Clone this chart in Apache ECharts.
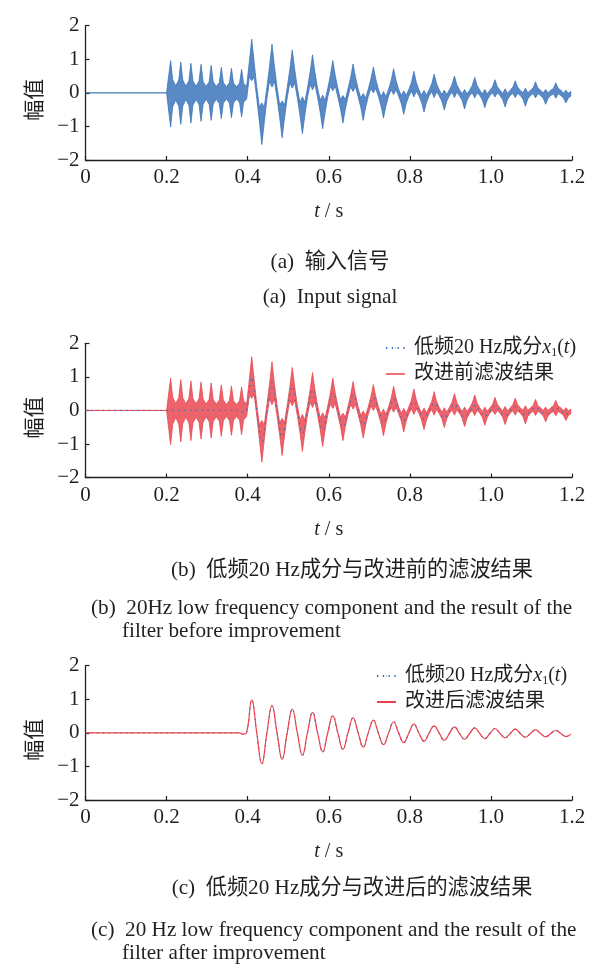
<!DOCTYPE html>
<html><head><meta charset="utf-8">
<script src="https://cdn.jsdelivr.net/npm/echarts@6/dist/echarts.min.js"></script>
<style>html,body{margin:0;padding:0;background:#fff}#c{width:606px;height:968px}</style>
</head><body><div id="c"></div>
<script>
// ---- tick labels ----
const xTickLabels = ['0', '0.2', '0.4', '0.6', '0.8', '1.0', '1.2'];
const yTickLabels = ['\u22122', '\u22121', '0', '1', '2'];

// ---- input signal (a) / filter result before improvement (b):
//      knots of the dense oscillation band: time, upper edge, lower edge ----
const inputT = [0, 0.200,
  0.204, 0.210, 0.215, 0.2225, 0.230, 0.235, 0.240, 0.2475, 0.255, 0.260, 0.265, 0.2725,
  0.280, 0.285, 0.290, 0.2975, 0.305, 0.310, 0.315, 0.3225, 0.330, 0.335, 0.340, 0.3475,
  0.355, 0.360, 0.365, 0.3725, 0.380, 0.385, 0.390, 0.3975,
  0.404, 0.410, 0.416, 0.4225, 0.429, 0.435, 0.441, 0.4475,
  0.454, 0.460, 0.466, 0.4725, 0.479, 0.485, 0.491, 0.4975,
  0.504, 0.510, 0.516, 0.5225, 0.529, 0.535, 0.541, 0.5475,
  0.554, 0.560, 0.566, 0.5725, 0.579, 0.585, 0.591, 0.5975,
  0.604, 0.610, 0.616, 0.6225, 0.629, 0.635, 0.641, 0.6475,
  0.654, 0.660, 0.666, 0.6725, 0.679, 0.685, 0.691, 0.6975,
  0.704, 0.710, 0.716, 0.7225, 0.729, 0.735, 0.741, 0.7475,
  0.754, 0.760, 0.766, 0.7725, 0.779, 0.785, 0.791, 0.7975,
  0.804, 0.810, 0.816, 0.8225, 0.829, 0.835, 0.841, 0.8475,
  0.854, 0.860, 0.866, 0.8725, 0.879, 0.885, 0.891, 0.8975,
  0.904, 0.910, 0.916, 0.9225, 0.929, 0.935, 0.941, 0.9475,
  0.954, 0.960, 0.966, 0.9725, 0.979, 0.985, 0.991, 0.9975,
  1.004, 1.010, 1.016, 1.0225, 1.029, 1.035, 1.041, 1.0475,
  1.054, 1.060, 1.066, 1.0725, 1.079, 1.085, 1.091, 1.0975,
  1.104, 1.110, 1.116, 1.1225, 1.129, 1.135, 1.141, 1.1475,
  1.154, 1.160, 1.166, 1.1725, 1.179, 1.185, 1.191, 1.197];
const inputHi = [0, 0,
  0.40, 0.96, 0.40, 0.21, 0.38, 0.92, 0.38, 0.20, 0.36, 0.88, 0.36, 0.20,
  0.35, 0.85, 0.34, 0.19, 0.33, 0.82, 0.33, 0.19, 0.31, 0.76, 0.31, 0.18,
  0.30, 0.73, 0.29, 0.18, 0.29, 0.70, 0.28, 0.20,
  0.91, 1.60, 0.91, 0.17, -0.43, -0.30, -0.43, 0.17,
  0.79, 1.45, 0.79, 0.16, -0.36, -0.24, -0.36, 0.15,
  0.70, 1.28, 0.70, 0.15, -0.28, -0.12, -0.28, 0.14,
  0.61, 1.13, 0.61, 0.14, -0.22, -0.07, -0.22, 0.13,
  0.52, 0.96, 0.52, 0.13, -0.20, -0.08, -0.20, 0.12,
  0.46, 0.86, 0.46, 0.12, -0.15, -0.02, -0.15, 0.11,
  0.41, 0.77, 0.41, 0.11, -0.11, 0.04, -0.11, 0.10,
  0.37, 0.72, 0.37, 0.10, -0.08, 0.06, -0.08, 0.10,
  0.31, 0.64, 0.31, 0.09, -0.07, 0.07, -0.07, 0.09,
  0.27, 0.56, 0.27, 0.09, -0.05, 0.08, -0.05, 0.09,
  0.24, 0.50, 0.24, 0.09, -0.03, 0.10, -0.03, 0.08,
  0.22, 0.46, 0.22, 0.08, -0.03, 0.10, -0.03, 0.08,
  0.18, 0.39, 0.18, 0.08, -0.02, 0.12, -0.02, 0.08,
  0.17, 0.36, 0.17, 0.08, 0.00, 0.14, 0.00, 0.08,
  0.14, 0.33, 0.14, 0.08, 0.00, 0.10, 0.00, 0.08,
  0.13, 0.30, 0.13, 0.08, -0.01, 0.08, -0.01, 0.04];
const inputLo = [0, 0,
  -0.42, -1.02, -0.42, -0.21, -0.40, -0.94, -0.39, -0.20, -0.37, -0.90, -0.37, -0.20,
  -0.35, -0.85, -0.35, -0.19, -0.34, -0.82, -0.33, -0.19, -0.32, -0.77, -0.31, -0.18,
  -0.30, -0.74, -0.30, -0.18, -0.29, -0.72, -0.28, -0.18,
  0.47, 0.36, 0.47, -0.17, -0.87, -1.54, -0.87, -0.17,
  0.35, 0.17, 0.35, -0.16, -0.74, -1.34, -0.74, -0.15,
  0.30, 0.14, 0.30, -0.15, -0.66, -1.22, -0.66, -0.14,
  0.25, 0.09, 0.25, -0.14, -0.58, -1.07, -0.58, -0.13,
  0.20, 0.06, 0.20, -0.13, -0.48, -0.90, -0.48, -0.12,
  0.18, 0.04, 0.18, -0.12, -0.43, -0.82, -0.43, -0.11,
  0.13, 0.00, 0.13, -0.11, -0.39, -0.75, -0.39, -0.10,
  0.09, -0.05, 0.09, -0.10, -0.32, -0.64, -0.32, -0.10,
  0.05, -0.12, 0.05, -0.09, -0.29, -0.57, -0.29, -0.09,
  0.03, -0.14, 0.03, -0.09, -0.25, -0.51, -0.25, -0.09,
  0.02, -0.14, 0.02, -0.09, -0.23, -0.48, -0.23, -0.08,
  0.00, -0.15, 0.00, -0.08, -0.21, -0.44, -0.21, -0.08,
  0.00, -0.12, 0.00, -0.08, -0.20, -0.42, -0.20, -0.08,
  -0.01, -0.14, -0.01, -0.08, -0.18, -0.40, -0.18, -0.08,
  -0.02, -0.15, -0.02, -0.08, -0.16, -0.34, -0.16, -0.08,
  -0.03, -0.16, -0.03, -0.08, -0.15, -0.30, -0.15, -0.10];

// ---- 20 Hz low-frequency component x1(t) (peaks, troughs, zero crossings) ----
const lowT = [0, 0.380, 0.388, 0.397,
  0.410, 0.4225, 0.435, 0.4475, 0.460, 0.4725, 0.485, 0.4975, 0.510, 0.5225, 0.535, 0.5475, 0.560, 0.5725, 0.585, 0.5975,
  0.610, 0.6225, 0.635, 0.6475, 0.660, 0.6725, 0.685, 0.6975, 0.710, 0.7225, 0.735, 0.7475, 0.760, 0.7725, 0.785, 0.7975,
  0.810, 0.8225, 0.835, 0.8475, 0.860, 0.8725, 0.885, 0.8975, 0.910, 0.9225, 0.935, 0.9475, 0.960, 0.9725, 0.985, 0.9975,
  1.010, 1.0225, 1.035, 1.0475, 1.060, 1.0725, 1.085, 1.0975, 1.110, 1.1225, 1.135, 1.1475, 1.160, 1.1725, 1.185, 1.197];
const lowV = [0, 0, -0.04, 0,
  0.98, 0, -0.92, 0, 0.81, 0, -0.79, 0, 0.71, 0, -0.67, 0, 0.61, 0, -0.57, 0,
  0.51, 0, -0.49, 0, 0.45, 0, -0.42, 0, 0.38, -0.01, -0.35, -0.01, 0.33, -0.01, -0.29, -0.01,
  0.26, -0.01, -0.25, -0.01, 0.21, -0.01, -0.22, -0.02, 0.18, -0.02, -0.19, -0.02, 0.15, -0.02, -0.17, -0.02,
  0.13, -0.02, -0.15, -0.02, 0.11, -0.02, -0.13, -0.02, 0.09, -0.02, -0.12, -0.02, 0.07, -0.02, -0.11, -0.04];
// ---- filter result after improvement (c) ----
const improvedV = [0, 0, -0.04, 0,
  0.98, 0, -0.92, 0, 0.81, 0, -0.79, 0, 0.71, 0, -0.67, 0, 0.61, 0, -0.57, 0,
  0.51, 0, -0.49, 0, 0.45, 0, -0.42, 0, 0.38, -0.01, -0.35, -0.01, 0.33, -0.01, -0.29, -0.01,
  0.26, -0.01, -0.25, -0.01, 0.21, -0.01, -0.22, -0.02, 0.18, -0.02, -0.19, -0.02, 0.15, -0.02, -0.17, -0.02,
  0.13, -0.02, -0.15, -0.02, 0.11, -0.02, -0.13, -0.02, 0.09, -0.02, -0.12, -0.02, 0.07, -0.02, -0.11, -0.04];

const NAME_LOW = '低频20 Hz成分x1(t)';
const NAME_BEFORE = '改进前滤波结果';
const NAME_AFTER = '改进后滤波结果';
const F = '"Liberation Serif", "Noto Sans CJK SC", serif';
const TXT = '#231f20';
const BLUE = '#3670b8';
const RED = '#e8414b';

const tops = [25.7, 343.3, 665.7];
const grids = tops.map(t => ({ left: 85.5, width: 486.5, top: t, height: 134.3 }));

const xAxes = grids.map((g, i) => ({
  type: 'value', gridIndex: i, min: 0, max: 1.2, interval: 0.2,
  axisLine: { onZero: false, lineStyle: { color: TXT, width: 1.3 } },
  axisTick: { inside: true, length: 4, lineStyle: { color: TXT, width: 1.2 } },
  splitLine: { show: false },
  axisLabel: { formatter: (v, idx) => xTickLabels[idx], fontSize: 21, fontFamily: F, color: TXT, margin: 7 },
  name: '{i|t} / s', nameLocation: 'middle', nameGap: 42,
  nameTextStyle: { fontSize: 20, fontFamily: F, color: TXT,
    rich: { i: { fontStyle: 'italic', fontSize: 20, fontFamily: F, color: TXT } } }
}));
const yAxes = grids.map((g, i) => ({
  type: 'value', gridIndex: i, min: -2, max: 2, interval: 1,
  axisLine: { show: true, lineStyle: { color: TXT, width: 1.3 } },
  axisTick: { show: true, inside: true, length: 4, lineStyle: { color: TXT, width: 1.2 } },
  splitLine: { show: false },
  axisLabel: { formatter: v => yTickLabels[Math.round(v) + 2], fontSize: 21, fontFamily: F, color: TXT, margin: 6 },
  name: '幅值', nameLocation: 'middle', nameGap: 40, nameRotate: 90,
  nameTextStyle: { fontSize: 21, fontFamily: F, color: TXT, padding: [0, 14, 0, 0] }
}));

function bandSeries(name, idx, color) {
  return {
    type: 'custom', name: name, xAxisIndex: idx, yAxisIndex: idx,
    itemStyle: { color: color },
    data: inputT.map((t, i) => [t, inputHi[i], inputLo[i]]),
    encode: { x: 0, y: [1, 2] },
    clip: true, silent: true,
    renderItem: function (params, api) {
      if (params.dataIndex !== 0) return null;
      const pts = [];
      for (let i = 0; i < inputT.length; i++) pts.push(api.coord([inputT[i], inputHi[i]]));
      for (let i = inputT.length - 1; i >= 0; i--) pts.push(api.coord([inputT[i], inputLo[i]]));
      return { type: 'polygon', shape: { points: pts },
        style: { fill: color, stroke: color, lineWidth: 0.9, opacity: 0.82, lineJoin: 'round' } };
    }
  };
}
function lineSeries(name, idx, vals, color, dotted) {
  return {
    type: 'line', name: name, xAxisIndex: idx, yAxisIndex: idx,
    data: lowT.map((t, i) => [t, vals[i]]),
    symbol: 'none', showSymbol: false, smooth: 0.45, silent: true,
    itemStyle: { color: color },
    lineStyle: { color: color, width: dotted ? 1.3 : 1.2, type: dotted ? [1.3, 4.5] : 'solid' }
  };
}

const legendRich = {
  p: { width: 4 },
  c: { fontSize: 20, fontFamily: F, color: TXT },
  i: { fontSize: 20, fontFamily: F, color: TXT, fontStyle: 'italic' },
  s: { fontSize: 12, fontFamily: F, color: TXT, padding: [9, 0, 0, 0] }
};
const legendFmt = name => name === NAME_LOW
  ? '{p|}{c|低频20 Hz成分}{i|x}{s|1}{c|(}{i|t}{c|)}'
  : '{p|}{c|' + name + '}';
function legendAt(left, top, names) {
  return {
    orient: 'vertical', left: left, top: top, padding: 0, itemGap: 2,
    itemWidth: 19, itemHeight: 1.4, selectedMode: false, data: names,
    formatter: legendFmt,
    textStyle: { fontSize: 20, fontFamily: F, color: TXT, lineHeight: 24, rich: legendRich }
  };
}

function cap(text, x, y, align) {
  return { type: 'text', silent: true,
    style: { text: text, x: x, y: y, align: align || 'center', verticalAlign: 'middle',
      fontSize: 21.2, fontFamily: F, fill: TXT } };
}

const chart = echarts.init(document.getElementById('c'), null, { renderer: 'canvas' });
chart.setOption({
  animation: false,
  backgroundColor: '#ffffff',
  grid: grids,
  xAxis: xAxes,
  yAxis: yAxes,
  legend: [
    legendAt(385, 336, [NAME_LOW, NAME_BEFORE]),
    legendAt(376, 664, [NAME_LOW, NAME_AFTER])
  ],
  series: [
    bandSeries('输入信号', 0, BLUE),
    lineSeries(NAME_LOW, 1, lowV, BLUE, true),
    bandSeries(NAME_BEFORE, 1, RED),
    lineSeries(NAME_LOW, 2, lowV, BLUE, true),
    lineSeries(NAME_AFTER, 2, improvedV, RED, false)
  ],
  graphic: [
    cap('(a)  输入信号', 330, 262),
    cap('(a)  Input signal', 330, 297),
    cap('(b)  低频20 Hz成分与改进前的滤波结果', 352, 570),
    cap('(b)  20Hz low frequency component and the result of the', 91, 608, 'left'),
    cap('filter before improvement', 122, 631, 'left'),
    cap('(c)  低频20 Hz成分与改进后的滤波结果', 352, 888),
    cap('(c)  20 Hz low frequency component and the result of the', 91, 930, 'left'),
    cap('filter after improvement', 122, 953, 'left')
  ]
});
</script></body></html>
